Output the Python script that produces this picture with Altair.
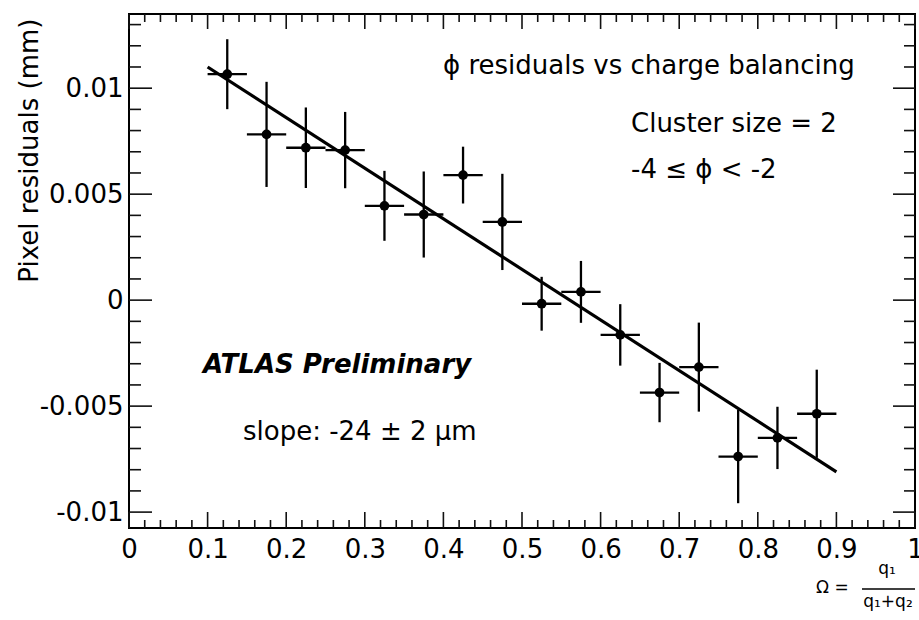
import altair as alt
import pandas as pd

# ---------------- data ----------------
bin_centers = [0.125, 0.175, 0.225, 0.275, 0.325, 0.375, 0.425, 0.475,
               0.525, 0.575, 0.625, 0.675, 0.725, 0.775, 0.825, 0.875]
residuals = [0.01066, 0.00782, 0.00719, 0.00708, 0.00445, 0.00404, 0.00590, 0.00369,
             -0.00017, 0.00039, -0.00164, -0.00436, -0.00316, -0.00738, -0.00650, -0.00536]
residual_errors = [0.00165, 0.00248, 0.00190, 0.00180, 0.00165, 0.00203, 0.00134, 0.00227,
                   0.00127, 0.00146, 0.00145, 0.00140, 0.00210, 0.00220, 0.00147, 0.00208]
bin_half_width = 0.025

fit_x = [0.1, 0.9]
fit_y = [0.0110, -0.0081]

x_tick_labels = [0, 0.1, 0.2, 0.3, 0.4, 0.5, 0.6, 0.7, 0.8, 0.9, 1]
y_tick_labels = [-0.01, -0.005, 0, 0.005, 0.01]

X_DOMAIN = [0, 1]
Y_DOMAIN = [-0.01075, 0.0135]

# ---------------- layout ----------------
W, H = 786, 514
FONT = "DejaVu Sans"

df = pd.DataFrame({"x": bin_centers, "y": residuals, "err": residual_errors})
df["ylo"] = df["y"] - df["err"]
df["yhi"] = df["y"] + df["err"]
df["xlo"] = df["x"] - bin_half_width
df["xhi"] = df["x"] + bin_half_width

fit_df = pd.DataFrame({"x": fit_x, "y": fit_y})

xs = alt.Scale(domain=X_DOMAIN, nice=False, zero=False)
ys = alt.Scale(domain=Y_DOMAIN, nice=False, zero=False)

x_axis = alt.Axis(values=x_tick_labels, labelExpr="toString(datum.value)",
                  domain=False, grid=False, ticks=False, tickSize=0,
                  labelFont=FONT, labelFontSize=26, labelColor="black",
                  labelPadding=8, labelFlush=False, labelOverlap=False,
                  title=None)
y_axis = alt.Axis(values=y_tick_labels, labelExpr="toString(datum.value)",
                  domain=False, grid=False, ticks=False, tickSize=0,
                  labelFont=FONT, labelFontSize=26, labelColor="black",
                  labelPadding=6, labelFlush=False, labelOverlap=False,
                  title="Pixel residuals (mm)", titleFont=FONT, titleFontSize=26,
                  titleFontWeight="normal", titleColor="black", titleAngle=270,
                  titleAlign="right", titleBaseline="alphabetic", titleX=-92, titleY=4)


def X(field):
    return alt.X(field, scale=xs, axis=x_axis)


def Y(field):
    return alt.Y(field, scale=ys, axis=y_axis)


points = alt.Chart(df).mark_circle(color="black", opacity=1, size=95).encode(
    x=X("x:Q"), y=Y("y:Q"))
vbars = alt.Chart(df).mark_rule(color="black", strokeWidth=2.3).encode(
    x=X("x:Q"), y=Y("ylo:Q"), y2="yhi:Q")
hbars = alt.Chart(df).mark_rule(color="black", strokeWidth=2.3).encode(
    x=X("xlo:Q"), x2="xhi:Q", y=Y("y:Q"))
fit = alt.Chart(fit_df).mark_line(color="black", strokeWidth=3.2).encode(
    x=X("x:Q"), y=Y("y:Q"))

# ---------------- ROOT-style inward ticks ----------------
x_major = [round(i * 0.1, 2) for i in range(11)]
x_minor = [round(i * 0.02, 2) for i in range(51) if i % 5 != 0]
y_major = [-0.01, -0.005, 0.0, 0.005, 0.01]
y_minor = [round(-0.010 + i * 0.001, 3) for i in range(24)]
y_minor = [v for v in y_minor if round(v / 0.005, 6) != round(v / 0.005)]

TICK = dict(color="#111", strokeWidth=1.6)


def xticks(vals, y0, y1):
    return alt.Chart(pd.DataFrame({"v": vals})).mark_rule(**TICK).encode(
        x=X("v:Q"), y=alt.value(y0), y2=alt.value(y1))


def yticks(vals, x0, x1):
    return alt.Chart(pd.DataFrame({"v": vals})).mark_rule(**TICK).encode(
        y=Y("v:Q"), x=alt.value(x0), x2=alt.value(x1))


ticks = [
    xticks(x_major, H, H - 16), xticks(x_minor, H, H - 8),
    xticks(x_major, 0, 15), xticks(x_minor, 0, 8),
    yticks(y_major, 0, 23), yticks(y_minor, 0, 12),
    yticks(y_major, W, W - 22), yticks(y_minor, W, W - 11),
]

# ---------------- annotations ----------------


def label(text, x, y, **kw):
    return alt.Chart(pd.DataFrame({"x": [x], "y": [y], "t": [text]})).mark_text(
        align="left", baseline="alphabetic", font=FONT, fontSize=26, color="black", **kw
    ).encode(x=X("x:Q"), y=Y("y:Q"), text="t:N")


texts = [
    label("\u03d5 residuals vs charge balancing", 0.3995, 0.01066),
    label("Cluster size = 2", 0.6387, 0.00793),
    label("-4 \u2264 \u03d5 < -2", 0.6387, 0.00576),
    label("ATLAS Preliminary", 0.0941, -0.00344, fontWeight="bold", fontStyle="italic"),
    label("slope: -24 \u00b1 2 \u03bcm", 0.145, -0.0066),
]


def pix_text(text, x, y, size, align="left"):
    return alt.Chart(pd.DataFrame({"t": [text]})).mark_text(
        align=align, baseline="alphabetic", font=FONT, fontSize=size, color="black"
    ).encode(x=alt.value(x), y=alt.value(y), text="t:N")


omega = [
    pix_text("\u03a9 =", 687, 579, 17),
    pix_text("q\u2081", 758, 560, 17, align="center"),
    pix_text("q\u2081+q\u2082", 759, 593, 17, align="center"),
    alt.Chart(pd.DataFrame({"d": [0]})).mark_rule(color="black", strokeWidth=1.5).encode(
        x=alt.value(733), x2=alt.value(786), y=alt.value(575)),
]

chart = alt.layer(points, vbars, hbars, fit, *ticks, *texts, *omega).properties(
    width=W, height=H,
    padding={"left": 129, "top": 14, "right": 4, "bottom": 92},
    autosize=alt.AutoSizeParams(type="none"),
    background="white",
).configure_view(stroke="black", strokeWidth=2)

chart.save("out.html", embed_options={"renderer": "svg", "actions": False})
